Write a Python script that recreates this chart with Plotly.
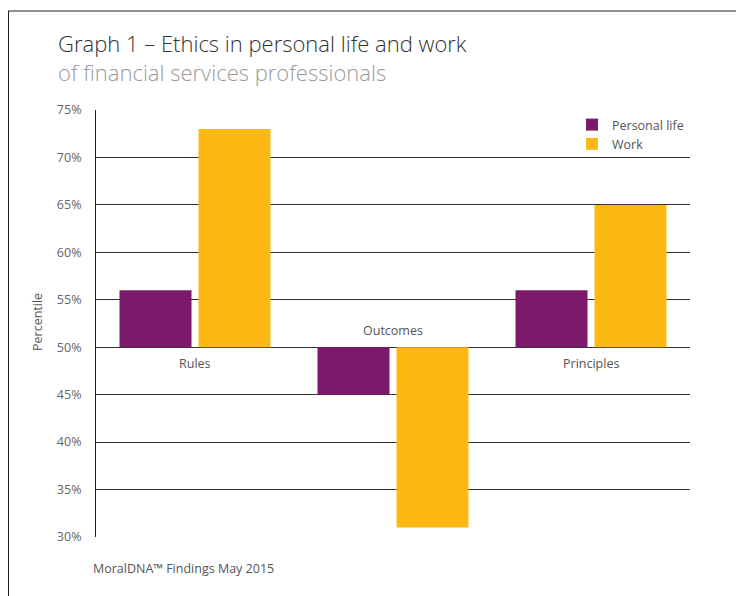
import plotly.graph_objects as go

categories = ["Rules", "Outcomes", "Principles"]
personal_life = [56, 45, 56]
work = [73, 31, 65]
tick_vals = [30, 35, 40, 45, 50, 55, 60, 65, 70, 75]
tick_text = ["30%", "35%", "40%", "45%", "50%", "55%", "60%", "65%", "70%", "75%"]
BASE = 50

PURPLE = "#7B1A6A"
YELLOW = "#FDB913"
FONT = "Open Sans"

fig = go.Figure()
fig.add_trace(go.Bar(name="Personal life", x=categories, y=[v - BASE for v in personal_life],
                     base=BASE, marker=dict(color=PURPLE, line=dict(width=0))))
fig.add_trace(go.Bar(name="Work", x=categories, y=[v - BASE for v in work],
                     base=BASE, marker=dict(color=YELLOW, line=dict(width=0))))

OFF = 8  # page body margin
W, H = 744, 596
# plot area in page coords: left 96, right 690, top 110, bottom 537
L = 96 - OFF
T = 110 - OFF
R = W - (690 - OFF)
B = H - (537 - OFF)
pw, ph = W - L - R, H - T - B

def px(x):  # page x -> paper
    return (x - OFF - L) / pw

def py(y):  # page y -> paper
    return (H - B - (y - OFF)) / ph

annotations = []
for c, p, w in zip(categories, personal_life, work):
    below = min(p, w) >= BASE
    annotations.append(dict(x=c, y=BASE, xref="x", yref="y", text=c, showarrow=False,
                            yanchor="top" if below else "bottom",
                            yshift=-6 if below else 6,
                            font=dict(family=FONT, size=12.5, color="#555555")))

annotations += [
    dict(x=px(56), y=py(57.5), xref="paper", yref="paper", xanchor="left", yanchor="middle",
         align="left",
         text=("Graph 1 – Ethics in personal life and work<br>"
               "<span style='color:#999999'>of financial services professionals</span>"),
         showarrow=False,
         font=dict(family=FONT, size=22, color="#333333", weight=300)),
    dict(x=px(91), y=py(568), xref="paper", yref="paper", xanchor="left", yanchor="middle",
         text="MoralDNA™ Findings May 2015", showarrow=False,
         font=dict(family=FONT, size=12.5, color="#555555")),
    dict(x=px(37), y=py(322), xref="paper", yref="paper", xanchor="center", yanchor="middle",
         text="Percentile", textangle=-90, showarrow=False,
         font=dict(family=FONT, size=12.5, color="#555555")),
]

shapes = [
    dict(type="line", xref="paper", yref="paper", x0=px(8), x1=px(780), y0=py(11), y1=py(11),
         line=dict(color="#222222", width=1)),
    dict(type="line", xref="paper", yref="paper", x0=px(8.5), x1=px(8.5), y0=py(11), y1=py(620),
         line=dict(color="#222222", width=1)),
]

fig.update_layout(
    width=W, height=H,
    margin=dict(l=L, r=R, t=T, b=B),
    paper_bgcolor="white", plot_bgcolor="white",
    barmode="group", bargap=0.202, bargroupgap=0.0886,
    font=dict(family=FONT, color="#555555"),
    showlegend=True,
    legend=dict(x=px(572), y=py(110), xanchor="left", yanchor="top",
                font=dict(family=FONT, size=12.5, color="#555555"),
                bgcolor="rgba(0,0,0,0)", itemwidth=30, tracegroupgap=0),
    xaxis=dict(showticklabels=False, showgrid=False, zeroline=False, showline=False, ticks=""),
    yaxis=dict(range=[30, 75], tickvals=tick_vals, ticktext=tick_text,
               showgrid=True, gridcolor="#333333", gridwidth=1,
               zeroline=False, showline=True, linecolor="#222222", linewidth=1,
               ticks="", ticklabelstandoff=11,
               tickfont=dict(family=FONT, size=12.5, color="#666666")),
    annotations=annotations,
    shapes=shapes,
)

fig.write_html("out.html")
